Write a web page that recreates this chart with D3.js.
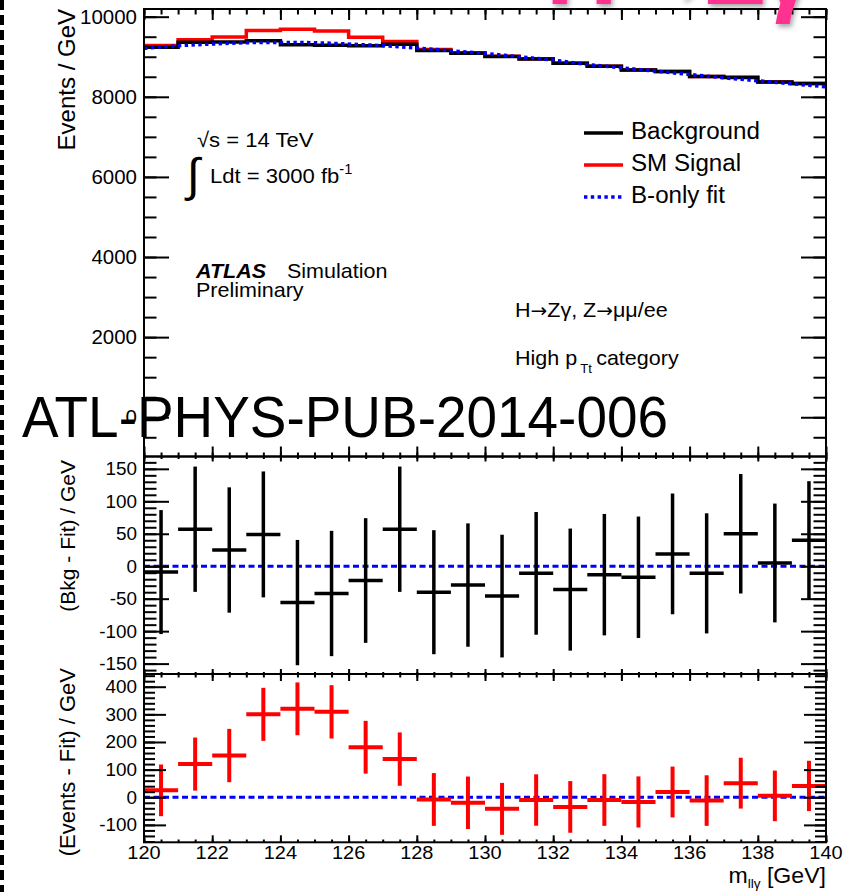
<!DOCTYPE html>
<html>
<head>
<meta charset="utf-8">
<script src="https://cdn.jsdelivr.net/npm/d3@7"></script>
<style>
  html, body { margin: 0; padding: 0; background: #fff; }
  svg { display: block; }
  text { font-family: "Liberation Sans", Arial, Helvetica, sans-serif; fill: #000; }
</style>
</head>
<body>
<svg id="chart" width="861" height="892"></svg>
<script>
// ---------------- data ----------------
// bin centres of the 1 GeV m_llγ bins
const binCenter = [120.5, 121.5, 122.5, 123.5, 124.5, 125.5, 126.5, 127.5, 128.5, 129.5,
                   130.5, 131.5, 132.5, 133.5, 134.5, 135.5, 136.5, 137.5, 138.5, 139.5];
// Events / GeV, background-only histogram
const background = [9240, 9360, 9370, 9400, 9300, 9290, 9275, 9315, 9155, 9090,
                    9005, 8945, 8835, 8760, 8672, 8630, 8505, 8485, 8370, 8330];
// Events / GeV, background + SM signal
const smSignal = [9280, 9425, 9492, 9656, 9685, 9643, 9488, 9380, 9182, 9100,
                  9010, 8948, 8835, 8762, 8672, 8630, 8505, 8487, 8370, 8331];
// background-only fit curve
const fitMass  = [120, 121, 122, 123, 124, 125, 126, 127, 128, 129, 130,
                  131, 132, 133, 134, 135, 136, 137, 138, 139, 140];
const fitValue = [9208, 9275, 9317, 9350, 9358, 9350, 9317, 9275, 9217, 9150, 9083,
                  9000, 8917, 8808, 8725, 8642, 8558, 8475, 8400, 8325, 8250];
// (Bkg - Fit) / GeV with statistical errors
const bkgMinusFit = [-9, 57, 25, 49, -56, -42, -22, 57, -40, -29,
                     -46, -11, -36, -13, -17, 19, -11, 50, 5, 40];
const bkgErr = [95.5, 96.5, 96.5, 97, 96.5, 96.5, 96, 96.5, 95.5, 95,
                94.5, 94.5, 94, 93.5, 93.5, 93, 92.5, 92, 91.5, 91];
// (Events - Fit) / GeV with statistical errors
const eventsMinusFit = [25, 120, 151, 300, 320, 309, 181, 138, -8, -20,
                        -42, -10, -35, -10, -17, 19, -12, 51, 5, 41];
const eventsErr = [93.5, 96, 96.5, 96, 95.5, 96.5, 95.5, 96.5, 95.5, 95,
                   94, 93, 93.5, 93.5, 92.5, 92, 91.5, 92, 91.5, 91];

// axis tick values
const xMajor = [120, 122, 124, 126, 128, 130, 132, 134, 136, 138, 140];
const topMajor = [0, 2000, 4000, 6000, 8000, 10000];
const midMajor = [-150, -100, -50, 0, 50, 100, 150];
const botMajor = [-100, 0, 100, 200, 300, 400];

// legend entries
const legendLabels = ["Background", "SM Signal", "B-only fit"];

// ---------------- layout ----------------
const svg = d3.select("#chart");
const X0 = 144, X1 = 826;
const SX = 1.05;   // horizontal stretch of the Helvetica-style labels

const x = d3.scaleLinear().domain([120, 140]).range([X0, X1]);
const yTop = d3.scaleLinear().domain([-980, 10192]).range([456.5, 9]);
const yMid = d3.scaleLinear().domain([-166, 169]).range([674, 456.5]);
const yBot = d3.scaleLinear().domain([-163, 446]).range([842.3, 674]);

const BLACK = "#000", RED = "#ff0000", BLUE = "#0000ff";

function htext(parent, px, py, str, size, anchor) {
  return parent.append("text")
    .attr("transform", `translate(${px},${py}) scale(${SX},1)`)
    .attr("font-size", size)
    .attr("text-anchor", anchor || "start")
    .text(str);
}

// left dashed border
svg.append("line")
  .attr("x1", 2).attr("x2", 2).attr("y1", 0).attr("y2", 892)
  .attr("stroke", BLACK).attr("stroke-width", 4)
  .attr("stroke-dasharray", "10 5");

// ---------------- axes / frames ----------------
function minorRange(lo, hi, step) {
  const out = [];
  for (let v = lo; v <= hi + 1e-9; v += step) out.push(+v.toFixed(6));
  return out;
}
function panelFrame(y, yMajorVals, yMinorStep, yLenMaj, yLenMin, topLen, botLen) {
  const g = svg.append("g").attr("stroke-width", 2);
  const [d0, d1] = y.domain();
  const yMinor = minorRange(Math.ceil(d0 / yMinorStep) * yMinorStep, d1, yMinorStep);
  const xMinor = minorRange(120, 140, 0.5);
  const style = s => s.call(a => a.select(".domain").remove())
                      .call(a => a.selectAll("line").attr("stroke", BLACK).attr("stroke-width", 2));
  // y ticks, left (pointing in) and right (pointing in)
  g.append("g").attr("transform", `translate(${X0},0)`)
    .call(d3.axisRight(y).tickValues(yMinor).tickSize(yLenMin).tickFormat("")).call(style);
  g.append("g").attr("transform", `translate(${X0},0)`)
    .call(d3.axisRight(y).tickValues(yMajorVals).tickSize(yLenMaj).tickFormat("")).call(style);
  g.append("g").attr("transform", `translate(${X1},0)`)
    .call(d3.axisLeft(y).tickValues(yMinor).tickSize(yLenMin).tickFormat("")).call(style);
  g.append("g").attr("transform", `translate(${X1},0)`)
    .call(d3.axisLeft(y).tickValues(yMajorVals).tickSize(yLenMaj).tickFormat("")).call(style);
  // x ticks, top edge pointing down, bottom edge pointing up
  const yt = y.range()[1], yb = y.range()[0];
  g.append("g").attr("transform", `translate(0,${yt})`)
    .call(d3.axisBottom(x).tickValues(xMinor).tickSize(topLen / 2).tickFormat("")).call(style);
  g.append("g").attr("transform", `translate(0,${yt})`)
    .call(d3.axisBottom(x).tickValues(xMajor).tickSize(topLen).tickFormat("")).call(style);
  g.append("g").attr("transform", `translate(0,${yb})`)
    .call(d3.axisTop(x).tickValues(xMinor).tickSize(botLen / 2.5).tickFormat("")).call(style);
  g.append("g").attr("transform", `translate(0,${yb})`)
    .call(d3.axisTop(x).tickValues(xMajor).tickSize(botLen).tickFormat("")).call(style);
  g.append("rect")
    .attr("x", X0).attr("y", yt).attr("width", X1 - X0).attr("height", yb - yt)
    .attr("fill", "none").attr("stroke", BLACK).attr("stroke-width", 2);
}

// ---------------- top panel: Events / GeV ----------------
const gTop = svg.append("g");
function stepPoints(vals) {
  const pts = binCenter.map((c, i) => [c - 0.5, vals[i]]);
  pts.push([binCenter[binCenter.length - 1] + 0.5, vals[vals.length - 1]]);
  return pts;
}
const stepLine = d3.line().x(d => x(d[0])).y(d => yTop(d[1])).curve(d3.curveStepAfter);

gTop.append("path").attr("d", stepLine(stepPoints(smSignal)))
  .attr("fill", "none").attr("stroke", RED).attr("stroke-width", 3.5);
gTop.append("path").attr("d", stepLine(stepPoints(background)))
  .attr("fill", "none").attr("stroke", BLACK).attr("stroke-width", 3.5);
const fitLine = d3.line().x((d, i) => x(fitMass[i])).y(d => yTop(d)).curve(d3.curveMonotoneX);
gTop.append("path").attr("d", fitLine(fitValue))
  .attr("fill", "none").attr("stroke", BLUE).attr("stroke-width", 3.5)
  .attr("stroke-dasharray", "3.4 3.4");

panelFrame(yTop, topMajor, 500, 25, 12.5, 11, 10);

topMajor.forEach(v => htext(svg, 137, yTop(v) + 7, String(v), 19.5, "end"));

svg.append("text")
  .attr("transform", "translate(75,9) rotate(-90)")
  .attr("text-anchor", "end").attr("font-size", 24)
  .text("Events / GeV");

// legend
const legColors = [BLACK, RED, BLUE];
const legY = [133, 165, 197];
legendLabels.forEach((lab, i) => {
  const ln = svg.append("line")
    .attr("x1", 584).attr("x2", 623).attr("y1", legY[i]).attr("y2", legY[i])
    .attr("stroke", legColors[i]).attr("stroke-width", 3.5);
  if (i === 2) ln.attr("stroke-dasharray", "3.4 3.4");
  htext(svg, 631, legY[i] + 5.5, lab, 23, "start");
});

// annotations
htext(svg, 197, 147, "√s = 14 TeV", 21, "start");

svg.append("text")
  .attr("x", 187).attr("y", 191)
  .attr("font-family", "DejaVu Sans").attr("font-size", 47)
  .text("∫");
const lum = htext(svg, 210, 183, "", 21, "start");
lum.append("tspan").text("Ldt = 3000 fb");
lum.append("tspan").attr("font-size", 14).attr("dy", -9).text("-1");

const atl = htext(svg, 196, 277.5, "", 20.5, "start");
atl.append("tspan").attr("font-weight", "bold").attr("font-style", "italic").text("ATLAS");
htext(svg, 287, 277.5, "Simulation", 20.5, "start");
htext(svg, 196, 296.5, "Preliminary", 20.5, "start");

const decay = htext(svg, 515, 316.5, "", 20.5, "start");
decay.append("tspan").text("H");
decay.append("tspan").attr("font-family", "DejaVu Sans").attr("font-size", 19).text("→");
decay.append("tspan").text("Zγ, Z");
decay.append("tspan").attr("font-family", "DejaVu Sans").attr("font-size", 19).text("→");
decay.append("tspan").text("μμ/ee");

const hp = htext(svg, 515, 365, "", 20.5, "start");
hp.append("tspan").text("High p");
hp.append("tspan").attr("font-size", 12.5).attr("dx", 3).attr("dy", 8).text("Tt");
hp.append("tspan").attr("dx", 4).attr("dy", -8).text("category");

// ---------------- middle panel: (Bkg - Fit) / GeV ----------------
const gMid = svg.append("g");
gMid.append("line")
  .attr("x1", X0).attr("x2", X1).attr("y1", yMid(0)).attr("y2", yMid(0))
  .attr("stroke", BLUE).attr("stroke-width", 3).attr("stroke-dasharray", "6 3.5");
gMid.selectAll("line.ev").data(binCenter).join("line").attr("class", "ev")
  .attr("x1", d => x(d)).attr("x2", d => x(d))
  .attr("y1", (d, i) => yMid(bkgMinusFit[i] - bkgErr[i]))
  .attr("y2", (d, i) => yMid(bkgMinusFit[i] + bkgErr[i]))
  .attr("stroke", BLACK).attr("stroke-width", 3.5);
gMid.selectAll("line.eh").data(binCenter).join("line").attr("class", "eh")
  .attr("x1", d => x(d - 0.5)).attr("x2", d => x(d + 0.5))
  .attr("y1", (d, i) => yMid(bkgMinusFit[i])).attr("y2", (d, i) => yMid(bkgMinusFit[i]))
  .attr("stroke", BLACK).attr("stroke-width", 3.5);

panelFrame(yMid, midMajor, 10, 25, 12.5, 5, 5);
midMajor.forEach(v => htext(svg, 137, yMid(v) + 6.5, String(v), 18, "end"));

svg.append("text")
  .attr("transform", "translate(75,460) rotate(-90)")
  .attr("text-anchor", "end").attr("font-size", 21)
  .text("(Bkg - Fit) / GeV");

// ---------------- bottom panel: (Events - Fit) / GeV ----------------
const gBot = svg.append("g");
gBot.append("line")
  .attr("x1", X0).attr("x2", X1).attr("y1", yBot(0)).attr("y2", yBot(0))
  .attr("stroke", BLUE).attr("stroke-width", 3).attr("stroke-dasharray", "6 3.5");
gBot.selectAll("line.ev").data(binCenter).join("line").attr("class", "ev")
  .attr("x1", d => x(d)).attr("x2", d => x(d))
  .attr("y1", (d, i) => yBot(eventsMinusFit[i] - eventsErr[i]))
  .attr("y2", (d, i) => yBot(eventsMinusFit[i] + eventsErr[i]))
  .attr("stroke", RED).attr("stroke-width", 4);
gBot.selectAll("line.eh").data(binCenter).join("line").attr("class", "eh")
  .attr("x1", d => x(d - 0.5)).attr("x2", d => x(d + 0.5))
  .attr("y1", (d, i) => yBot(eventsMinusFit[i])).attr("y2", (d, i) => yBot(eventsMinusFit[i]))
  .attr("stroke", RED).attr("stroke-width", 4);

panelFrame(yBot, botMajor, 20, 22, 11, 7, 7);
botMajor.forEach(v => htext(svg, 137, yBot(v) + 6.5, String(v), 18, "end"));

svg.append("text")
  .attr("transform", "translate(75,668) rotate(-90)")
  .attr("text-anchor", "end").attr("font-size", 22)
  .text("(Events - Fit) / GeV");

xMajor.forEach(v => htext(svg, x(v), 859, String(v), 19, "middle"));

const xt = htext(svg, 826, 883, "", 22, "end");
xt.append("tspan").text("m");
xt.append("tspan").attr("font-size", 13).attr("dy", 5).text("llγ");
xt.append("tspan").attr("dy", -5).text(" [GeV]");

// ---------------- overlays ----------------
svg.append("text")
  .attr("x", 22).attr("y", 437)
  .attr("font-family", "Lato, 'Open Sans', sans-serif").attr("font-size", 58)
  .attr("textLength", 646).attr("lengthAdjust", "spacingAndGlyphs")
  .text("ATL-PHYS-PUB-2014-006");

const defs = svg.append("defs");
const f = defs.append("filter").attr("id", "shadow")
  .attr("x", "-20%").attr("y", "-50%").attr("width", "140%").attr("height", "200%");
f.append("feDropShadow").attr("dx", 2).attr("dy", 3).attr("stdDeviation", 2.5)
  .attr("flood-color", "#000").attr("flood-opacity", 0.35);

const pink = svg.append("text")
  .attr("y", 4).attr("font-size", 99).attr("font-weight", "bold")
  .attr("filter", "url(#shadow)")
  .style("fill", "#ff3190");
pink.append("tspan").attr("x", 546).text("H");
pink.append("tspan").attr("x", 620).text("→");
pink.append("tspan").attr("x", 705).text("Z");
pink.append("tspan").attr("x", 760).text("γ");
</script>
</body>
</html>
